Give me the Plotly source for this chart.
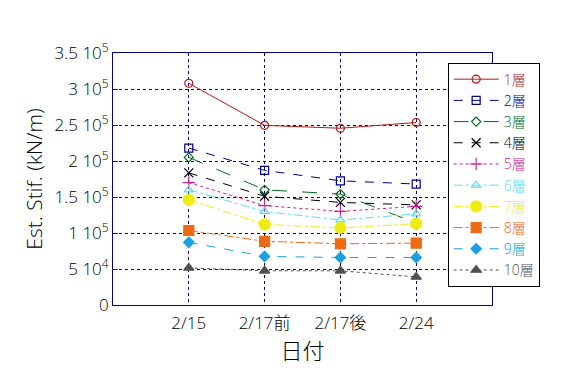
import plotly.graph_objects as go

categories = ["2/15", "2/17前", "2/17後", "2/24"]
names = ["1層", "2層", "3層", "4層", "5層", "6層", "7層", "8層", "9層", "10層"]
s1 = [308000, 249500, 245500, 253500]
s2 = [218000, 187000, 172500, 168000]
s3 = [205000, 160000, 154000, 114000]
s4 = [183500, 151000, 142500, 139000]
s5 = [170000, 138000, 130000, 137000]
s6 = [160000, 130000, 118000, 126500]
s7 = [146000, 112000, 107000, 113000]
s8 = [103500, 88500, 85000, 86000]
s9 = [87000, 67500, 66000, 66000]
s10 = [51500, 47500, 47500, 39000]
series = [s1, s2, s3, s4, s5, s6, s7, s8, s9, s10]

ytick_vals = [0, 50000, 100000, 150000, 200000, 250000, 300000, 350000]
ytick_text = ["0", "5 10<sup>4</sup>", "1 10<sup>5</sup>", "1.5 10<sup>5</sup>",
              "2 10<sup>5</sup>", "2.5 10<sup>5</sup>", "3 10<sup>5</sup>", "3.5 10<sup>5</sup>"]

colors = ["#B01818", "#000090", "#006A1A", "#000000", "#D0208A",
          "#60DCEE", "#F0EC10", "#EE6A14", "#1AA0E0", "#505050"]
symbols = ["circle-open", "square-open", "diamond-open", "x-thin-open", "cross-thin-open",
           "triangle-up-open", "circle", "square", "diamond", "triangle-up"]
dashes = ["solid", "dash", "longdash", "dash", "dot", "dashdot", "dashdot", "dashdot", "dash", "dot"]
sizes = [8, 8, 7, 9, 9, 8, 11, 10, 8, 9]

xpos = [1, 2, 3, 4]
fig = go.Figure()
for i, ys in enumerate(series):
    fig.add_trace(go.Scatter(
        x=xpos, y=ys, name=f'<span style="color:{colors[i]}">{names[i]}</span>',
        mode="lines+markers",
        line=dict(color=colors[i], width=1, dash=dashes[i]),
        marker=dict(symbol=symbols[i], size=sizes[i], color=colors[i],
                    line=dict(color=colors[i], width=1.2)),
    ))

font_family = "Open Sans, DejaVu Sans, Noto Sans CJK JP, sans-serif"
fig.update_layout(
    width=568, height=379,
    margin=dict(l=113, r=76, t=53, b=74, autoexpand=False),
    paper_bgcolor="white", plot_bgcolor="white",
    font=dict(family=font_family, size=17, color="black", weight=300),
    showlegend=True,
    legend=dict(
        x=0.883, y=0.962, xanchor="left", yanchor="top",
        bgcolor="white", bordercolor="black", borderwidth=1,
        font=dict(size=14, weight=300),
        tracegroupgap=0, itemwidth=45,
    ),
    xaxis=dict(
        range=[0, 5], tickvals=xpos, ticktext=categories,
        showgrid=True, gridcolor="#000080", griddash="dot", gridwidth=1,
        showline=True, linecolor="#000080", linewidth=1, mirror=True,
        ticks="", zeroline=False, automargin=False, ticklabelstandoff=3,
        tickfont=dict(size=17, weight=300),
        title=dict(text="日付", font=dict(size=22, weight=300), standoff=10),
    ),
    yaxis=dict(
        range=[0, 350000], tickvals=ytick_vals, ticktext=ytick_text,
        showgrid=True, gridcolor="#000080", griddash="dot", gridwidth=1,
        showline=True, linecolor="#000080", linewidth=1, mirror=True,
        ticks="inside", ticklen=5, tickcolor="#000080", zeroline=False,
        automargin=False,
        tickfont=dict(size=17, weight=300),
        title=dict(text="Est. Stif. (kN/m)", font=dict(size=21, weight=300), standoff=6),
    ),
)

fig.write_html("out.html", config={"displayModeBar": False},
               post_script="document.body.style.margin='0';")
